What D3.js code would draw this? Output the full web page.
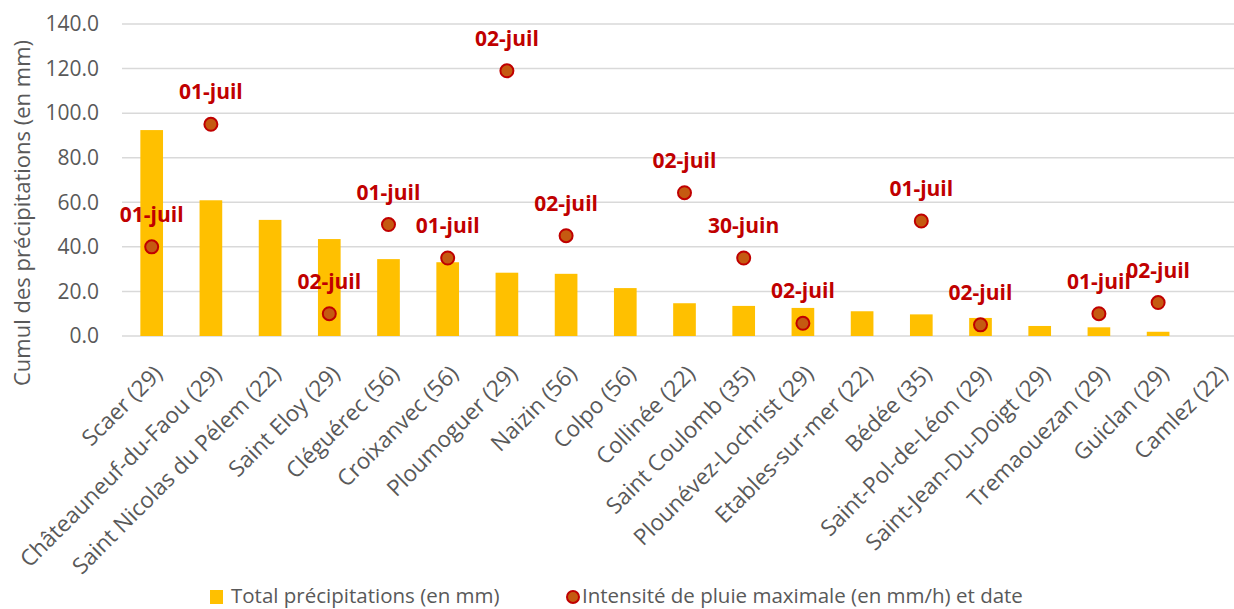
<!DOCTYPE html>
<html>
<head>
<meta charset="utf-8">
<script src="https://cdn.jsdelivr.net/npm/d3@7"></script>
<style>
  body { margin: 0; background: #fff; }
  svg { font-family: "Open Sans", sans-serif; }
</style>
</head>
<body>
<svg width="1234" height="609"></svg>
<script>
// stations (commune + département)
var stations = ["Scaer (29)", "Châteauneuf-du-Faou (29)", "Saint Nicolas du Pélem (22)", "Saint Eloy (29)",
  "Cléguérec (56)", "Croixanvec (56)", "Ploumoguer (29)", "Naizin (56)", "Colpo (56)", "Collinée (22)",
  "Saint Coulomb (35)", "Plounévez-Lochrist (29)", "Etables-sur-mer (22)", "Bédée (35)",
  "Saint-Pol-de-Léon (29)", "Saint-Jean-Du-Doigt (29)", "Tremaouezan (29)", "Guiclan (29)", "Camlez (22)"];

// total rain (mm)
var totals = [92.4, 60.9, 52.1, 43.5, 34.5, 33.1, 28.4, 27.9, 21.5, 14.7,
  13.5, 12.6, 11.1, 9.7, 8.1, 4.5, 3.9, 1.9, 0];

// max intensity (mm/h) and the day it happened, null when none
var intensity = [40, 95, null, 10, 50, 35, 119, 45, null, 64.3,
  35, 5.7, null, 51.6, 5, null, 10, 15, null];
var dates = ["01-juil", "01-juil", null, "02-juil", "01-juil", "01-juil", "02-juil", "02-juil", null, "02-juil",
  "30-juin", "02-juil", null, "01-juil", "02-juil", null, "01-juil", "02-juil", null];

var yTicks = [0, 20, 40, 60, 80, 100, 120, 140];

var svg = d3.select("svg");

var x = d3.scaleBand()
    .domain(stations)
    .range([122, 1247])
    .paddingInner(0.617)
    .paddingOuter(0.31);

var y = d3.scaleLinear()
    .domain([0, 140])
    .range([336, 24]);

// grid lines
svg.append("g")
  .selectAll("line")
  .data(yTicks)
  .enter().append("line")
    .attr("x1", 122)
    .attr("x2", 1234)
    .attr("y1", function(d) { return y(d); })
    .attr("y2", function(d) { return y(d); })
    .attr("stroke", "#d9d9d9")
    .attr("stroke-width", 1.5);

// y axis labels
var yAxis = d3.axisLeft(y).tickValues(yTicks).tickSize(0).tickPadding(0)
    .tickFormat(d3.format(".1f"));
svg.append("g")
    .attr("transform", "translate(99,0)")
    .call(yAxis)
    .call(function(g) { g.select(".domain").remove(); })
    .selectAll("text")
      .attr("font-family", "Open Sans")
      .attr("font-size", 21)
      .attr("fill", "#595959");

// y title
svg.append("text")
    .attr("transform", "translate(30,213) rotate(-90)")
    .attr("text-anchor", "middle")
    .attr("font-size", 22)
    .attr("fill", "#595959")
    .text("Cumul des précipitations (en mm)");

// bars
svg.append("g")
  .selectAll("rect")
  .data(totals)
  .enter().append("rect")
    .attr("x", function(d, i) { return x(stations[i]); })
    .attr("width", x.bandwidth())
    .attr("y", function(d) { return y(d); })
    .attr("height", function(d) { return y(0) - y(d); })
    .attr("fill", "#ffc000");

// x axis labels, rotated
var xAxis = d3.axisBottom(x).tickSize(0).tickPadding(0);
svg.append("g")
    .attr("transform", "translate(0,336)")
    .call(xAxis)
    .call(function(g) { g.select(".domain").remove(); })
    .selectAll("text")
      .attr("font-family", "Open Sans")
      .attr("font-size", 22.5)
      .attr("fill", "#595959")
      .attr("text-anchor", "end")
      .attr("dy", null)
      .attr("y", 0)
      .attr("transform", "translate(12,39) rotate(-45)");

// intensity points
var pts = intensity.map(function(v, i) { return {v: v, d: dates[i], s: stations[i]}; })
    .filter(function(p) { return p.v != null; });

svg.append("g")
  .selectAll("circle")
  .data(pts)
  .enter().append("circle")
    .attr("cx", function(p) { return x(p.s) + x.bandwidth() / 2; })
    .attr("cy", function(p) { return y(p.v); })
    .attr("r", 6.5)
    .attr("fill", "#c55a11")
    .attr("stroke", "#c00000")
    .attr("stroke-width", 2);

svg.append("g")
  .selectAll("text")
  .data(pts)
  .enter().append("text")
    .attr("x", function(p) { return x(p.s) + x.bandwidth() / 2; })
    .attr("y", function(p) { return y(p.v) - 25; })
    .attr("text-anchor", "middle")
    .attr("font-size", 21)
    .attr("font-weight", "bold")
    .attr("fill", "#c00000")
    .text(function(p) { return p.d; });

// legend
var legend = svg.append("g").attr("font-size", 20.5).attr("fill", "#595959");
legend.append("rect").attr("x", 210).attr("y", 590).attr("width", 13).attr("height", 14).attr("fill", "#ffc000");
legend.append("text").attr("x", 231).attr("y", 603).text("Total précipitations (en mm)");
legend.append("circle").attr("cx", 573).attr("cy", 597).attr("r", 6).attr("fill", "#c55a11")
    .attr("stroke", "#c00000").attr("stroke-width", 2);
legend.append("text").attr("x", 582).attr("y", 603).text("Intensité de pluie maximale (en mm/h) et date");
</script>
</body>
</html>
